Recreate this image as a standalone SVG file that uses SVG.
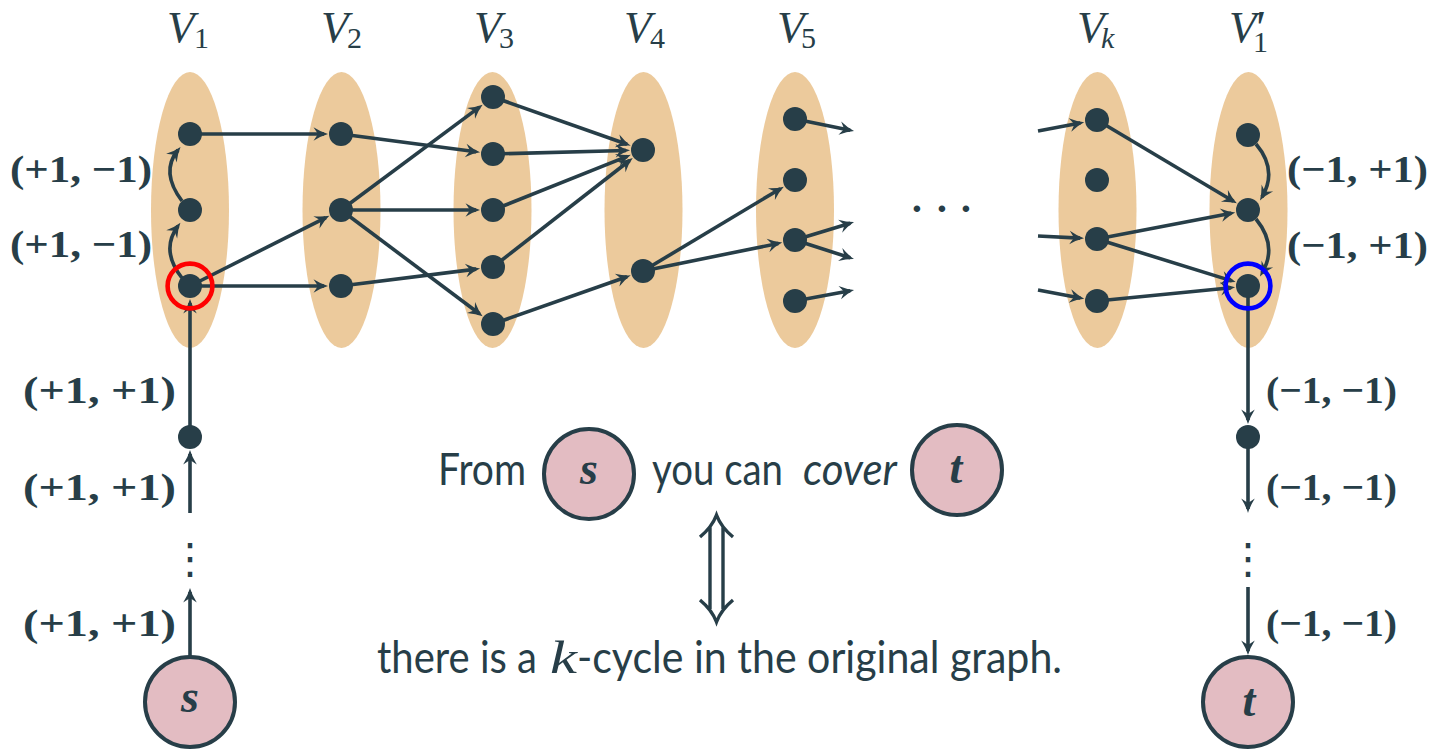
<svg xmlns="http://www.w3.org/2000/svg" width="1444" height="749" viewBox="0 0 1444 749">
<style>
.set{fill:#ecca9c}
.e{fill:none;stroke:#273e48;stroke-width:3.6;marker-end:url(#ah)}
.l{fill:none;stroke:#273e48;stroke-width:3.4}
.v{fill:#273e48}
.big{fill:#e3bcc2;stroke:#273e48;stroke-width:4}
.ring{fill:none;stroke-width:4.6}
.vl{font-family:"Liberation Serif",serif;font-style:italic;font-size:45px;fill:#273e48}
.sub{font-style:normal;font-size:30px}
.subi{font-style:italic;font-size:30px}
.lbl{font-family:"Liberation Serif",serif;font-weight:bold;font-size:38px;fill:#273e48}
.sans{font-family:Lato,"Open Sans",sans-serif;font-size:44px;fill:#273e48}
.math{font-family:"Liberation Serif",serif;font-style:italic;fill:#273e48}
.bm{font-family:"Liberation Serif",serif;font-style:italic;font-weight:bold;font-size:46px;fill:#273e48}
.vdots{font-family:"DejaVu Sans",sans-serif;font-weight:normal;font-size:42px;fill:#273e48}
</style>
<defs>
<marker id="ah" markerUnits="userSpaceOnUse" markerWidth="20" markerHeight="16" viewBox="-12 -8 20 16" refX="0" refY="0" orient="auto" overflow="visible">
<path d="M4,0 Q-3,-2 -10.5,-6.8 L-6,0 L-10.5,6.8 Q-3,2 4,0 Z" fill="#273e48"/>
</marker>
</defs>
<rect width="1444" height="749" fill="#ffffff"/>

<g id="sets">
<g id="set-V1"><ellipse class="set" cx="190" cy="210" rx="39" ry="138"/><text class="vl" x="167" y="42">V<tspan class="sub" x="194" y="48">1</tspan></text></g>
<g id="set-V2"><ellipse class="set" cx="341.5" cy="210" rx="39" ry="138"/><text class="vl" x="321" y="42">V<tspan class="sub" x="347" y="48">2</tspan></text></g>
<g id="set-V3"><ellipse class="set" cx="492.5" cy="210" rx="39" ry="138"/><text class="vl" x="474" y="42">V<tspan class="sub" x="499" y="48">3</tspan></text></g>
<g id="set-V4"><ellipse class="set" cx="643.5" cy="210" rx="39" ry="138"/><text class="vl" x="624" y="42">V<tspan class="sub" x="650" y="48">4</tspan></text></g>
<g id="set-V5"><ellipse class="set" cx="795" cy="210" rx="39" ry="138"/><text class="vl" x="777" y="42">V<tspan class="sub" x="801" y="48">5</tspan></text></g>
<g id="set-Vk"><ellipse class="set" cx="1097.5" cy="210" rx="39" ry="138"/><text class="vl" x="1077" y="42">V<tspan class="subi" x="1101" y="48">k</tspan></text></g>
<g id="set-V1p"><ellipse class="set" cx="1248.5" cy="210" rx="39" ry="138"/><text class="vl" x="1229" y="42">V<tspan class="sub" x="1253" y="52">1</tspan><tspan x="1253" y="44" style="font-size:48px">'</tspan></text></g>
</g>

<g id="connectors">
<line class="e" x1="190" y1="134" x2="324" y2="134"/>
<line class="e" x1="190" y1="286" x2="325.8" y2="217.6"/>
<line class="e" x1="190" y1="286" x2="324" y2="286"/>
<path class="e" d="M182,278 Q160,250 178,226"/>
<path class="e" d="M182,201 Q160,172 178,150"/>
<line class="e" x1="341" y1="134" x2="476.1" y2="151.8"/>
<line class="e" x1="341" y1="210" x2="479.4" y2="107.1"/>
<line class="e" x1="341" y1="210" x2="476" y2="210"/>
<line class="e" x1="341" y1="210" x2="479.4" y2="313.8"/>
<line class="e" x1="341" y1="286" x2="476.1" y2="269.1"/>
<line class="e" x1="493" y1="97" x2="627" y2="144.3"/>
<line class="e" x1="493" y1="154" x2="626" y2="150.45"/>
<line class="e" x1="493" y1="210" x2="627.2" y2="156.3"/>
<line class="e" x1="493" y1="267" x2="629.6" y2="160.5"/>
<line class="e" x1="493" y1="324" x2="627" y2="276.7"/>
<line class="e" x1="643" y1="271" x2="780.4" y2="188.7"/>
<line class="e" x1="643" y1="271" x2="778.3" y2="243.4"/>
<line class="e" x1="795" y1="119" x2="850.1" y2="130.2"/>
<line class="e" x1="795" y1="240" x2="850.2" y2="223.2"/>
<line class="e" x1="795" y1="240" x2="850.2" y2="257.8"/>
<line class="e" x1="795" y1="301" x2="850.1" y2="290.7"/>
<line class="e" x1="1038" y1="131" x2="1080.3" y2="123.1"/>
<line class="e" x1="1038" y1="236" x2="1080" y2="238.1"/>
<line class="e" x1="1038" y1="290" x2="1080.3" y2="297.9"/>
<line class="e" x1="1097" y1="120" x2="1233.4" y2="201.3"/>
<line class="e" x1="1097" y1="239" x2="1231.3" y2="213.2"/>
<line class="e" x1="1097" y1="239" x2="1231.8" y2="280.9"/>
<line class="e" x1="1097" y1="301" x2="1231.1" y2="287.7"/>
<path class="e" d="M1256,144 Q1278,170 1262,197"/>
<path class="e" d="M1256,219 Q1278,246 1262,273"/>
<line class="e" x1="190" y1="657" x2="190" y2="592"/>
<line class="e" x1="190" y1="513" x2="190" y2="454"/>
<line class="e" x1="190" y1="437" x2="190" y2="303"/>
<line class="e" x1="1248" y1="290" x2="1248" y2="420"/>
<line class="e" x1="1248" y1="437" x2="1248" y2="509"/>
<line class="e" x1="1248" y1="587" x2="1248" y2="651"/>
<path id="iff" class="l" d="M710,527 V609 M723,527 V609 M700,537 Q712,527 716.5,515 Q721,527 733,537 M700,600 Q712,610 716.5,622 Q721,610 733,600"/>
</g>

<g id="nodes">
<g id="v1a"><circle class="v" cx="190" cy="134" r="12"/></g>
<g id="v1b"><circle class="v" cx="190" cy="210" r="12"/></g>
<g id="v1c"><circle class="v" cx="190" cy="286" r="12"/><circle class="ring" stroke="#ff0000" cx="190" cy="286" r="22.4"/></g>
<g id="v2a"><circle class="v" cx="341" cy="134" r="12"/></g>
<g id="v2b"><circle class="v" cx="341" cy="210" r="12"/></g>
<g id="v2c"><circle class="v" cx="341" cy="286" r="12"/></g>
<g id="v3a"><circle class="v" cx="493" cy="97" r="12"/></g>
<g id="v3b"><circle class="v" cx="493" cy="154" r="12"/></g>
<g id="v3c"><circle class="v" cx="493" cy="210" r="12"/></g>
<g id="v3d"><circle class="v" cx="493" cy="267" r="12"/></g>
<g id="v3e"><circle class="v" cx="493" cy="324" r="12"/></g>
<g id="v4a"><circle class="v" cx="643" cy="150" r="12"/></g>
<g id="v4b"><circle class="v" cx="643" cy="271" r="12"/></g>
<g id="v5a"><circle class="v" cx="795" cy="119" r="12"/></g>
<g id="v5b"><circle class="v" cx="795" cy="180" r="12"/></g>
<g id="v5c"><circle class="v" cx="795" cy="240" r="12"/></g>
<g id="v5d"><circle class="v" cx="795" cy="301" r="12"/></g>
<g id="vka"><circle class="v" cx="1097" cy="120" r="12"/></g>
<g id="vkb"><circle class="v" cx="1097" cy="180" r="12"/></g>
<g id="vkc"><circle class="v" cx="1097" cy="239" r="12"/></g>
<g id="vkd"><circle class="v" cx="1097" cy="301" r="12"/></g>
<g id="v1pa"><circle class="v" cx="1248" cy="135" r="12"/></g>
<g id="v1pb"><circle class="v" cx="1248" cy="210" r="12"/></g>
<g id="v1pc"><circle class="v" cx="1248" cy="286" r="12"/><circle class="ring" stroke="#0000ff" cx="1248" cy="286" r="22.4"/></g>
<g id="sL"><circle class="v" cx="190" cy="437" r="12"/></g>
<g id="tL"><circle class="v" cx="1248" cy="437" r="12"/></g>
<g id="s"><circle class="big" cx="190" cy="702" r="45"/><text class="bm" x="190" y="712" text-anchor="middle">s</text></g>
<g id="t"><circle class="big" cx="1248" cy="702" r="45"/><text class="bm" x="1249" y="716" text-anchor="middle">t</text></g>
<g id="s-inline"><circle class="big" cx="589" cy="474" r="45"/><text class="bm" x="589" y="484" text-anchor="middle">s</text></g>
<g id="t-inline"><circle class="big" cx="957" cy="470" r="45"/><text class="bm" x="956" y="483" text-anchor="middle">t</text></g>
</g>

<g id="labels">
<text class="lbl" x="152" y="182" text-anchor="end" textLength="142" lengthAdjust="spacingAndGlyphs">(+1, −1)</text>
<text class="lbl" x="152" y="257" text-anchor="end" textLength="142" lengthAdjust="spacingAndGlyphs">(+1, −1)</text>
<text class="lbl" x="176" y="403" text-anchor="end" textLength="153" lengthAdjust="spacingAndGlyphs">(+1, +1)</text>
<text class="lbl" x="176" y="500" text-anchor="end" textLength="153" lengthAdjust="spacingAndGlyphs">(+1, +1)</text>
<text class="lbl" x="176" y="636" text-anchor="end" textLength="153" lengthAdjust="spacingAndGlyphs">(+1, +1)</text>
<text class="lbl" x="1287" y="182" textLength="141" lengthAdjust="spacingAndGlyphs">(−1, +1)</text>
<text class="lbl" x="1287" y="258" textLength="141" lengthAdjust="spacingAndGlyphs">(−1, +1)</text>
<text class="lbl" x="1266" y="403" textLength="131" lengthAdjust="spacingAndGlyphs">(−1, −1)</text>
<text class="lbl" x="1266" y="500" textLength="131" lengthAdjust="spacingAndGlyphs">(−1, −1)</text>
<text class="lbl" x="1266" y="636" textLength="131" lengthAdjust="spacingAndGlyphs">(−1, −1)</text>
<text class="vdots" x="190" y="573" text-anchor="middle">⋮</text>
<text class="vdots" x="1248" y="573" text-anchor="middle">⋮</text>
<text class="lbl" style="font-weight:bold;font-size:40px" text-anchor="middle"><tspan x="917" y="222">·</tspan><tspan x="942" y="222">·</tspan><tspan x="966" y="222">·</tspan></text>
<text class="sans" x="438" y="485" textLength="88" lengthAdjust="spacingAndGlyphs">From</text>
<text class="sans" x="652" y="485" textLength="131" lengthAdjust="spacingAndGlyphs">you can</text>
<text class="sans" x="803" y="485" textLength="94" lengthAdjust="spacingAndGlyphs" style="font-style:italic">cover</text>
<text class="sans" x="377" y="673" textLength="160" lengthAdjust="spacingAndGlyphs">there is a</text>
<text class="math" x="550" y="673" font-size="46" textLength="27" lengthAdjust="spacingAndGlyphs">k</text>
<text class="sans" x="577" y="673" textLength="485" lengthAdjust="spacingAndGlyphs">-cycle in the original graph.</text>
</g>
</svg>
